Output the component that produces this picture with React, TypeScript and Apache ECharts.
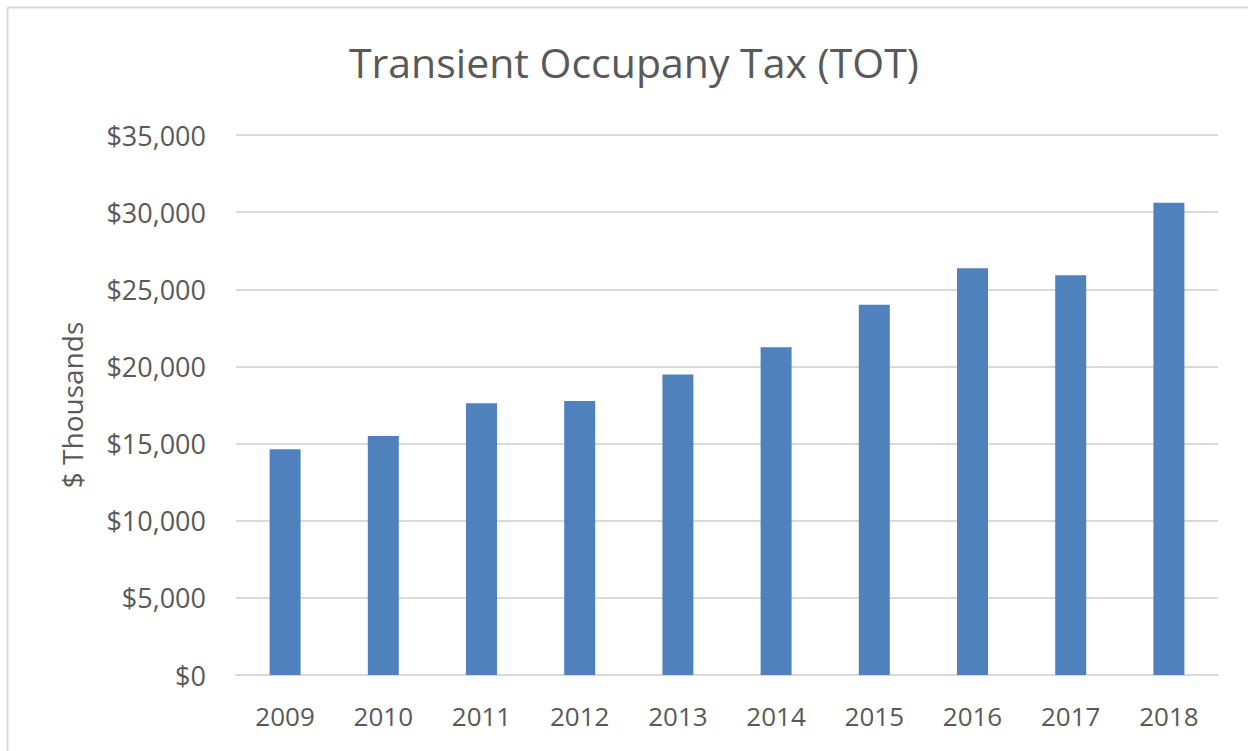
import React, { useEffect, useRef } from "react";
import * as echarts from "echarts";

const categories = ["2009", "2010", "2011", "2012", "2013", "2014", "2015", "2016", "2017", "2018"];
const totValues = [14630, 15490, 17610, 17760, 19470, 21240, 24000, 26360, 25910, 30610];
const yTicks = [0, 5000, 10000, 15000, 20000, 25000, 30000, 35000];

const FONT = "'Open Sans', 'Noto Sans', sans-serif";
const TEXT = "#595959";

export default function App() {
  const ref = useRef<HTMLDivElement>(null);
  useEffect(() => {
    if (!ref.current) return;
    const chart = echarts.init(ref.current, undefined, { renderer: "svg" });
    chart.setOption({
      animation: false,
      backgroundColor: "#ffffff",
      textStyle: { fontFamily: FONT },
      title: {
        text: "Transient Occupany Tax (TOT)",
        left: 344,
        top: 36,
        textStyle: { fontFamily: FONT, fontSize: 41, fontWeight: "normal", color: TEXT },
      },
      graphic: [
        { type: "line", shape: { x1: 7.5, y1: 7.5, x2: 1248, y2: 7.5 }, style: { stroke: "#d9d9d9", lineWidth: 2 } },
        { type: "line", shape: { x1: 7.5, y1: 7.5, x2: 7.5, y2: 751 }, style: { stroke: "#d9d9d9", lineWidth: 2 } },
      ],
      grid: { left: 236, right: 30, top: 135, bottom: 76 },
      xAxis: {
        type: "category",
        data: categories,
        axisLine: { show: true, lineStyle: { color: "#d9d9d9", width: 2 } },
        axisTick: { show: false },
        axisLabel: { color: TEXT, fontSize: 26, margin: 28, fontFamily: FONT },
      },
      yAxis: {
        type: "value",
        min: yTicks[0],
        max: yTicks[yTicks.length - 1],
        interval: yTicks[1] - yTicks[0],
        name: "$ Thousands",
        nameLocation: "middle",
        nameRotate: 90,
        nameGap: 150,
        nameTextStyle: { color: TEXT, fontSize: 28, fontFamily: FONT },
        axisLine: { show: false },
        axisTick: { show: false },
        splitLine: { lineStyle: { color: "#d9d9d9", width: 2 } },
        axisLabel: {
          color: TEXT,
          fontSize: 27,
          margin: 30,
          fontFamily: FONT,
          formatter: (v: number) => "$" + v.toLocaleString("en-US"),
        },
      },
      series: [
        {
          type: "bar",
          data: totValues,
          barWidth: 31,
          itemStyle: { color: "#4f81bd" },
        },
      ],
    });
    return () => chart.dispose();
  }, []);
  return <div ref={ref} style={{ position: "absolute", left: 0, top: 0, width: 1248, height: 751 }} />;
}
